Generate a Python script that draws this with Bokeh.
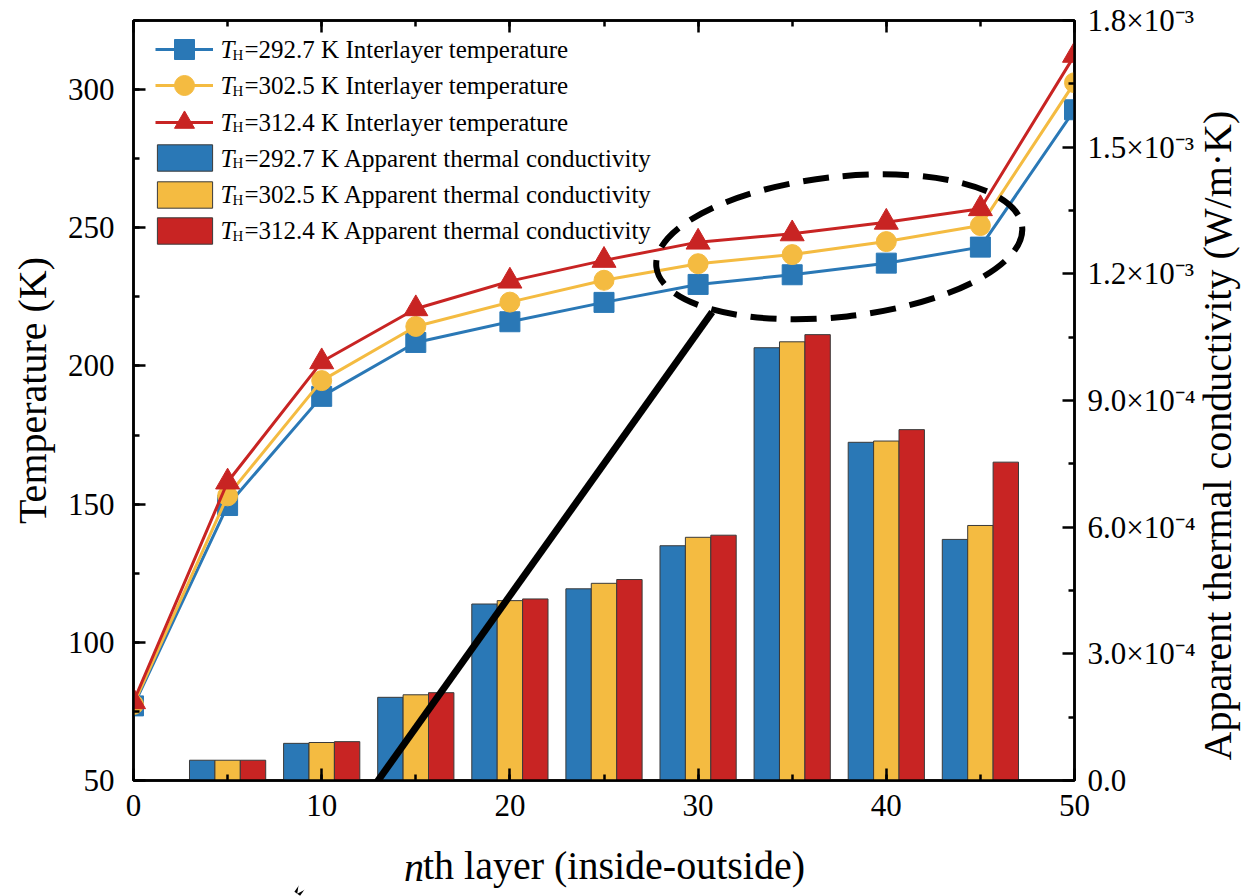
import math
from bokeh.plotting import figure
from bokeh.models import (Range1d, LinearAxis, SingleIntervalTicker, FixedTicker,
                          CustomJSTickFormatter, Legend, LegendItem, Label, Arrow,
                          OpenHead, ColumnDataSource)
from bokeh.core.properties import value
from bokeh.embed import file_html
from bokeh.resources import INLINE

# ---------------- data ----------------
layers = [0, 5, 10, 15, 20, 25, 30, 35, 40, 45, 50]
temp_292 = [77.0, 149.5, 189.0, 208.5, 216.0, 223.0, 229.5, 233.0, 237.2, 243.0, 292.7]
temp_302 = [77.5, 153.0, 194.7, 214.3, 223.1, 231.0, 237.0, 240.3, 245.0, 250.8, 302.5]
temp_312 = [78.5, 158.0, 201.5, 220.7, 230.7, 238.2, 244.8, 247.8, 252.0, 256.9, 312.4]

bar_layers = [5, 10, 15, 20, 25, 30, 35, 40, 45]
cond_292 = [4.8e-5, 8.8e-5, 1.97e-4, 4.18e-4, 4.54e-4, 5.56e-4, 1.025e-3, 8.01e-4, 5.71e-4]
cond_302 = [4.8e-5, 9.0e-5, 2.03e-4, 4.26e-4, 4.67e-4, 5.76e-4, 1.039e-3, 8.04e-4, 6.04e-4]
cond_312 = [4.8e-5, 9.2e-5, 2.08e-4, 4.30e-4, 4.76e-4, 5.81e-4, 1.056e-3, 8.31e-4, 7.54e-4]

th_values = ["292.7", "302.5", "312.4"]
cond_ticks = [0.0, 0.0003, 0.0006, 0.0009, 0.0012, 0.0015, 0.0018]
cond_tick_labels = ["0.0", "3.0×10⁻⁴", "6.0×10⁻⁴", "9.0×10⁻⁴", "1.2×10⁻³", "1.5×10⁻³", "1.8×10⁻³"]

colors = ["#2A78B6", "#F4BB41", "#C82423"]
markers = ["square", "circle", "triangle"]
marker_sizes = [20, 20, 24]

FONT = "Liberation Serif"
FW, FH = 941, 760
NB = "\u00a0"

p = figure(frame_width=FW, frame_height=FH, x_range=Range1d(0, 50), y_range=Range1d(50, 325),
           output_backend="svg", toolbar_location=None,
           min_border_left=133, min_border_right=179, min_border_top=20, min_border_bottom=116)
p.extra_y_ranges = {"cond": Range1d(0, 0.0018)}
p.xgrid.visible = False
p.ygrid.visible = False
p.outline_line_color = "black"
p.outline_line_width = 2.5
p.background_fill_color = "white"
p.border_fill_color = "white"


def style_axis(ax):
    ax.axis_line_width = 2.5
    ax.axis_line_color = "black"
    ax.major_tick_in = 12
    ax.major_tick_out = 0
    ax.minor_tick_in = 6
    ax.minor_tick_out = 0
    ax.major_tick_line_width = 2.5
    ax.minor_tick_line_width = 2.5
    ax.major_tick_line_color = "black"
    ax.minor_tick_line_color = "black"
    ax.major_label_text_font = FONT
    ax.major_label_text_font_size = "31px"
    ax.major_label_text_color = "black"
    ax.axis_label_text_font = FONT
    ax.axis_label_text_font_size = "40px"
    ax.axis_label_text_font_style = "normal"
    ax.axis_label_text_color = "black"


xax = p.xaxis[0]
xax.ticker = SingleIntervalTicker(interval=10, num_minor_ticks=2)
style_axis(xax)
xax.major_label_standoff = 14
xax.axis_label = NB * 2 + "th layer (inside-outside)"
xax.axis_label_standoff = 24

# italic "n" of the x-axis title, on an invisible stacked axis pulled up to the same row
nax = LinearAxis(ticker=FixedTicker(ticks=[]),
                 formatter=CustomJSTickFormatter(code="return '';"))
style_axis(nax)
nax.axis_line_color = None
nax.major_tick_line_color = None
nax.minor_tick_line_color = None
nax.major_label_text_font_size = "0px"
nax.major_label_standoff = 0
nax.axis_label = "n" + NB * 38
nax.axis_label_text_font_style = "italic"
nax.axis_label_standoff = -46
p.add_layout(nax, "below")

yax = p.yaxis[0]
yax.ticker = SingleIntervalTicker(interval=50, num_minor_ticks=2)
style_axis(yax)
yax.major_label_standoff = 19
yax.axis_label = NB * 2 + "Temperature (K)"
yax.axis_label_standoff = 10

minor_cond = [(cond_ticks[i] + cond_ticks[i + 1]) / 2 for i in range(len(cond_ticks) - 1)]
rax = LinearAxis(y_range_name="cond",
                 ticker=FixedTicker(ticks=cond_ticks, minor_ticks=minor_cond),
                 formatter=CustomJSTickFormatter(args=dict(cvals=cond_ticks, clabs=cond_tick_labels), code="""
let best = 0;
for (let i = 1; i < cvals.length; i++) {
  if (Math.abs(cvals[i] - tick) < Math.abs(cvals[best] - tick)) best = i;
}
return clabs[best];
"""))
style_axis(rax)
rax.major_label_standoff = 13
rax.axis_label = NB * 2 + "Apparent thermal conductivity (W/m·K)"
rax.axis_label_standoff = 19
try:
    rax.axis_label_orientation = math.pi / 2
except Exception:
    pass
try:
    rax.axis_label_align = "start"
except Exception:
    pass
p.add_layout(rax, "right")

tax = LinearAxis(ticker=SingleIntervalTicker(interval=10, num_minor_ticks=2),
                 formatter=CustomJSTickFormatter(code="return '';"))
style_axis(tax)
tax.major_label_text_font_size = "0px"
tax.major_label_standoff = 0
p.add_layout(tax, "above")

# ---------------- bars ----------------
bar_width = 1.35
offsets = [-bar_width, 0.0, bar_width]
bar_renderers = []
for cond, col, off in zip([cond_292, cond_302, cond_312], colors, offsets):
    src = ColumnDataSource(dict(x=[g + off for g in bar_layers], top=cond))
    r = p.vbar(x="x", top="top", bottom=0, width=bar_width, source=src, y_range_name="cond",
               fill_color=col, line_color="#3a3a3a", line_width=1)
    bar_renderers.append(r)

# ---------------- lines ----------------
line_renderers = []
for temps, col, mk, sz in zip([temp_292, temp_302, temp_312], colors, markers, marker_sizes):
    src = ColumnDataSource(dict(x=layers, y=temps))
    l = p.line(x="x", y="y", source=src, line_color=col, line_width=3)
    s = p.scatter(x="x", y="y", source=src, marker=mk, size=sz, fill_color=col, line_color=col)
    line_renderers.append((l, s))

# ---------------- highlight ellipse & arrow ----------------
sel = slice(6, 10)
ell_x = sum(layers[sel]) / len(layers[sel])
sel_vals = temp_292[sel] + temp_302[sel] + temp_312[sel]
ell_y = sum(sel_vals) / len(sel_vals)
p.ellipse(x=[ell_x], y=[ell_y], width=368, height=140, width_units="screen", height_units="screen",
          angle=0.11, fill_color=None, line_color="black", line_width=6, line_dash="26 14")

arrow_start = (30.75, 219.5)
arrow_end = (8.7, 9.0)
p.add_layout(Arrow(end=OpenHead(size=30, line_width=7, line_color="black"),
                   x_start=arrow_start[0], y_start=arrow_start[1],
                   x_end=arrow_end[0], y_end=arrow_end[1],
                   line_width=7, line_color="black"))

# ---------------- legend ----------------
row_centers = [29, 65, 101.5, 137.5, 174, 210]  # px from frame top
for i, (l, s) in enumerate(line_renderers):
    rc = row_centers[i]
    leg = Legend(items=[LegendItem(label=value(" "), renderers=[l, s])],
                 location=(22, FH - (rc + 25)), glyph_width=58, glyph_height=50,
                 padding=0, margin=0, spacing=0, label_width=0, label_height=0, label_standoff=0,
                 label_text_font_size="1px", border_line_color=None, background_fill_alpha=0)
    p.add_layout(leg)
for i, r in enumerate(bar_renderers):
    rc = row_centers[3 + i]
    leg = Legend(items=[LegendItem(label=value(" "), renderers=[r])],
                 location=(17, FH - (rc + 16.5)), glyph_width=69, glyph_height=33,
                 padding=0, margin=0, spacing=0, label_width=0, label_height=0, label_standoff=0,
                 label_text_font_size="1px", border_line_color=None, background_fill_alpha=0)
    p.add_layout(leg)

suffixes = ["Interlayer temperature"] * 3 + ["Apparent thermal conductivity"] * 3
for i, rc in enumerate(row_centers):
    th = th_values[i % 3]
    base = FH - rc
    p.add_layout(Label(x=87, y=base, x_units="screen", y_units="screen", text="T",
                       text_font=FONT, text_font_style="italic", text_font_size="25px",
                       text_baseline="alphabetic", text_color="black"))
    p.add_layout(Label(x=99, y=base - 5, x_units="screen", y_units="screen", text="H",
                       text_font=FONT, text_font_size="15px",
                       text_baseline="alphabetic", text_color="black"))
    p.add_layout(Label(x=111, y=base, x_units="screen", y_units="screen",
                       text="=" + th + " K " + suffixes[i],
                       text_font=FONT, text_font_size="25px",
                       text_baseline="alphabetic", text_color="black"))

open("out.html", "w").write(file_html(p, INLINE))
